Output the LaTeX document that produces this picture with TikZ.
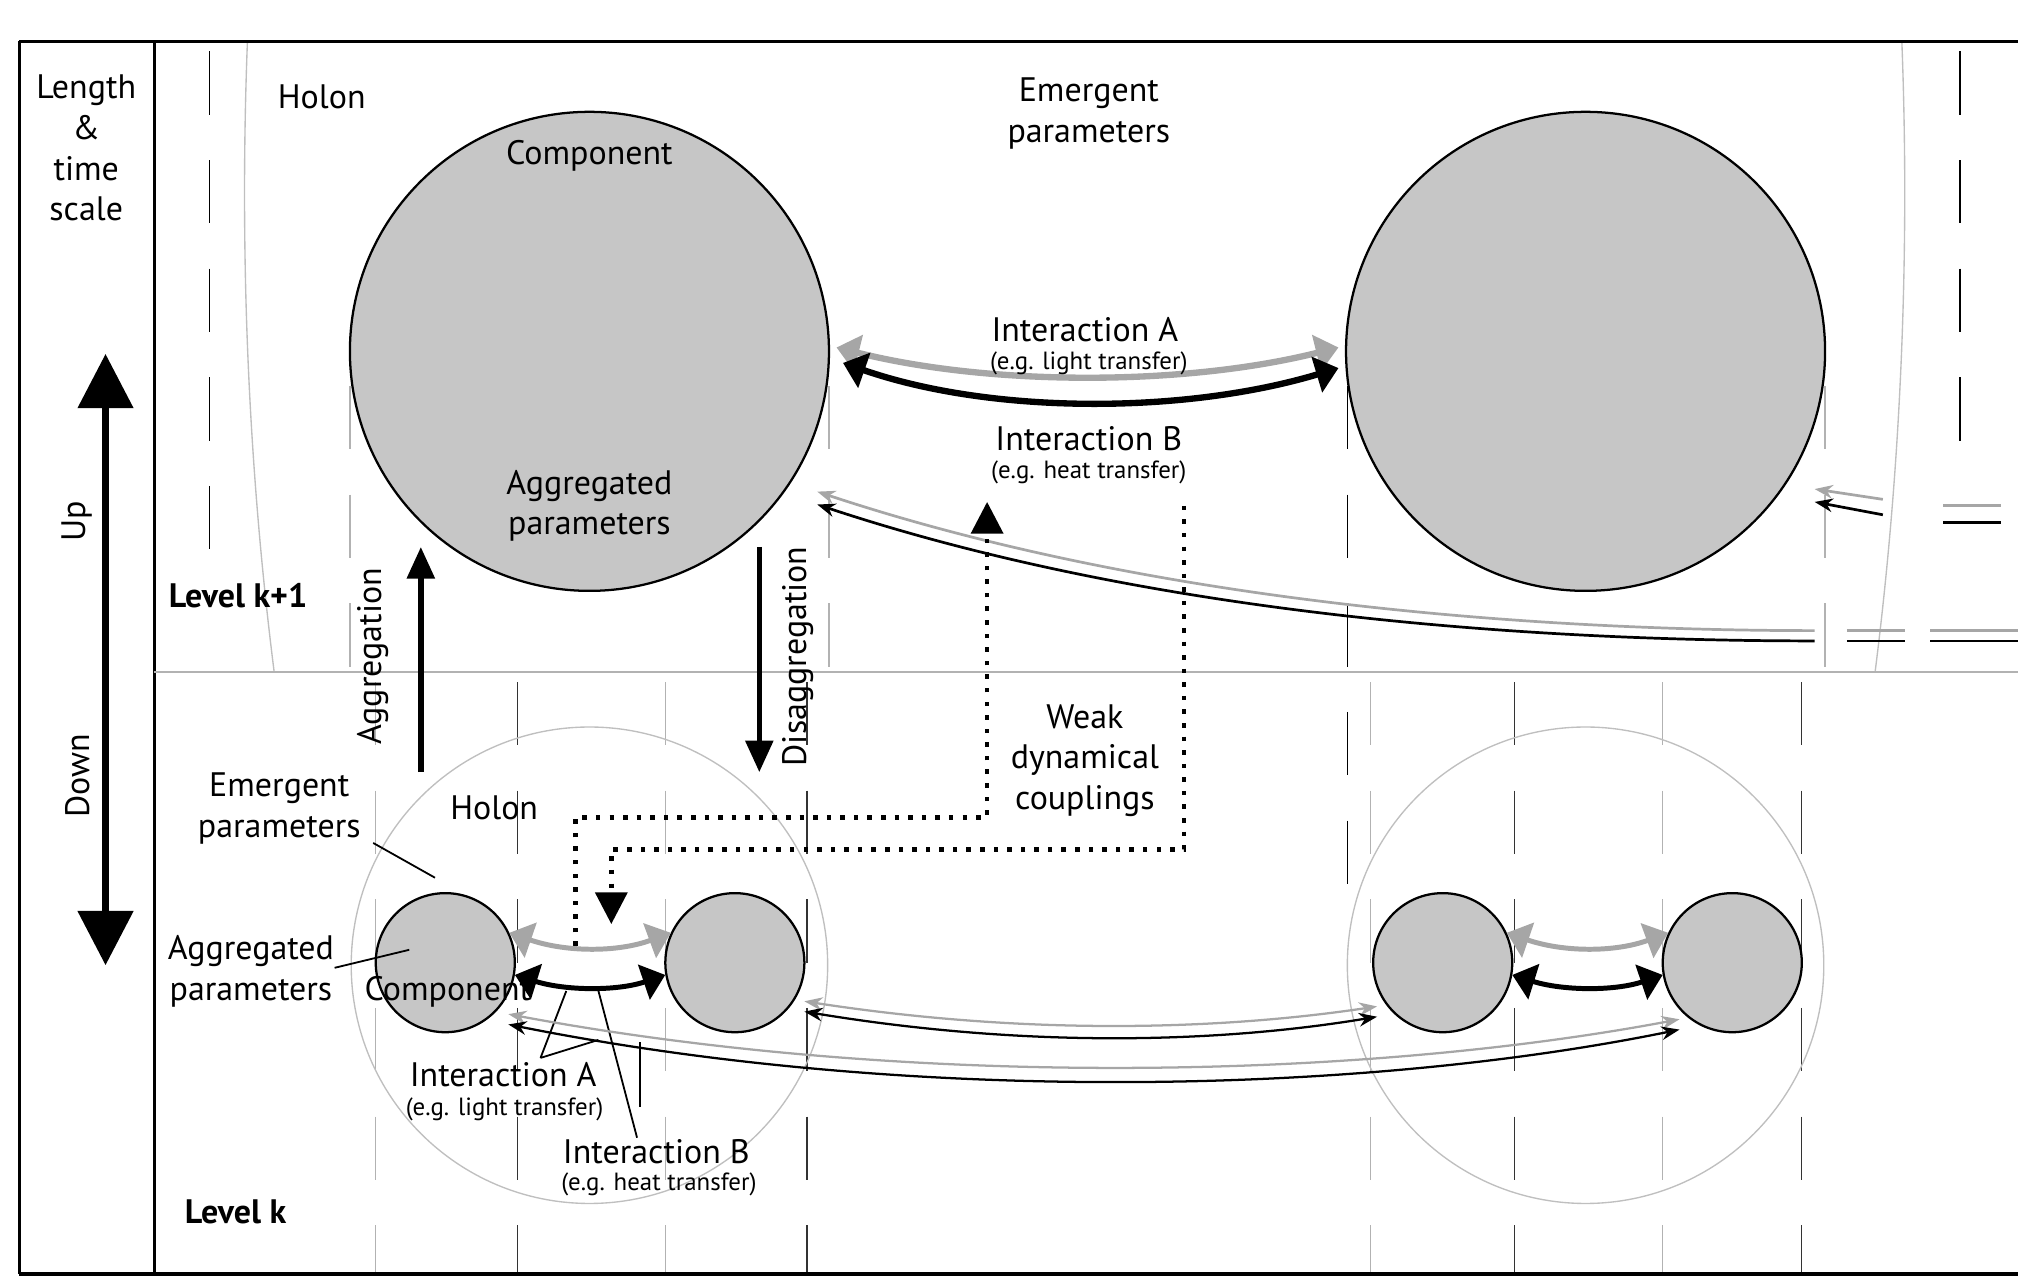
\documentclass[tikz,border=0pt]{standalone}
\usepackage{fontspec}
\setmainfont{PT Sans}
\usetikzlibrary{arrows.meta}
\begin{document}
\begin{tikzpicture}[x=0.01cm,y=-0.01cm,
  lbl/.style={font=\fontsize{7.5}{9}\selectfont,align=center,inner sep=0pt},
  sml/.style={font=\fontsize{5.5}{6.5}\selectfont,inner sep=0pt},
  comp/.style={draw=black,fill=gray!45,line width=0.5pt},
  holon/.style={draw=gray!50,line width=0.3pt},
  dl/.style={dash pattern=on 14pt off 10pt,line width=0.3pt},
  gA/.style={draw=gray!70,line width=1.4pt,{Triangle[length=5pt,width=8pt]}-{Triangle[length=5pt,width=8pt]}},
  bB/.style={draw=black,line width=1.4pt,{Triangle[length=5pt,width=8pt]}-{Triangle[length=5pt,width=8pt]}},
  gs/.style={draw=gray!70,line width=0.5pt,{Stealth[length=4pt]}-{Stealth[length=4pt]}},
  bs/.style={draw=black,line width=0.5pt,{Stealth[length=4pt]}-{Stealth[length=4pt]}},
  dot/.style={dotted,line width=1pt},
  bigar/.style={line width=1.2pt,-{Triangle[length=7pt,width=6pt]}}]
\useasboundingbox (0,0) rectangle (1568,1000);
% holon of level k+1
\begin{scope}
\clip (120,32) rectangle (1568,522);
\draw[holon] (835,150) ellipse (645 and 1400);
\end{scope}
% dashed guide lines
\draw[dl,black] (163,40) -- (163,470);
\draw[dl,black] (1523,40) -- (1523,370);
\foreach \x in {272,644,1418} \draw[dl,gray!60] (\x,300) -- (\x,522);
\draw[dl,black] (1047,300) -- (1047,700);
\foreach \x in {292,517,1065,1292} \draw[dl,gray!60] (\x,530) -- (\x,990);
\foreach \x in {402,627,1177,1400} \draw[dl,black!80] (\x,530) -- (\x,990);
% frame
\draw[line width=0.6pt] (15,32) -- (1568,32);
\draw[line width=0.8pt] (15,990) -- (1568,990);
\draw[line width=0.6pt] (15,32) -- (15,990);
\draw[line width=0.8pt] (120,32) -- (120,990);
\draw[gray!60,line width=0.4pt] (120,522) -- (1568,522);
% big components
\node[comp,circle,minimum size=3.72cm] (C1) at (458,273) {};
\node[comp,circle,minimum size=3.72cm] (C2) at (1232,273) {};
% lower holons
\node[holon,circle,minimum size=3.7cm] (H1) at (458,750) {};
\node[holon,circle,minimum size=3.7cm] (H2) at (1232,750) {};
\node[comp,circle,minimum size=1.08cm] (c1) at (346,748) {};
\node[comp,circle,minimum size=1.08cm] (c2) at (571,748) {};
\node[comp,circle,minimum size=1.08cm] (c3) at (1121,748) {};
\node[comp,circle,minimum size=1.08cm] (c4) at (1346,748) {};
% left column
\node[lbl] (lts) at (67,115) {Length\\\&\\time\\scale};
\coordinate (upT) at (82,275);
\coordinate (dnB) at (82,750);
\draw[line width=1.6pt,{Triangle[length=12pt,width=12pt]}-{Triangle[length=12pt,width=12pt]}] (upT) -- (dnB);
\node[lbl,rotate=90] (up) at (60,405) {Up};
\node[lbl,rotate=90] (down) at (60,603) {Down};
% upper texts
\node[lbl] (holonT) at (250,75) {Holon};
\node[lbl] (emT) at (846,88) {Emergent\\parameters};
\node[lbl] (compT) at (458,121) {Component};
\node[lbl] (aggT) at (458,393) {Aggregated\\parameters};
\node[lbl,font=\bfseries\fontsize{7.5}{9}\selectfont] (lk1) at (185,463) {Level k+1};
\node[lbl,rotate=90] (aggr) at (290,510) {Aggregation};
\node[lbl,rotate=90] (disag) at (620,510) {Disaggregation};
\coordinate (a1) at (327,600); \coordinate (a2) at (327,425);
\draw[bigar] (a1) -- (a2);
\coordinate (d1) at (590,425); \coordinate (d2) at (590,600);
\draw[bigar] (d1) -- (d2);
% interactions upper
\coordinate (iA1) at (650,270); \coordinate (iA2) at (1040,270);
\coordinate (iB1) at (655,282); \coordinate (iB2) at (1040,286);
\draw[gA] (iA1) .. controls (770,300) and (920,300) .. (iA2);
\draw[bB] (iB1) .. controls (770,322) and (920,322) .. (iB2);
\node[lbl] (IA) at (843,256) {Interaction A};
\node[sml] (IAs) at (846,282) {(e.g. light transfer)};
\node[lbl] (IB) at (846,341) {Interaction B};
\node[sml] (IBs) at (846,367) {(e.g. heat transfer)};
% long couplings upper
\coordinate (L1) at (635,382); \coordinate (L1e) at (1410,490);
\coordinate (L2) at (635,392); \coordinate (L2e) at (1410,498);
\draw[gray!70,line width=0.6pt,{Stealth[length=4pt]}-] (L1) .. controls (900,470) and (1200,490) .. (L1e);
\draw[black,line width=0.6pt,{Stealth[length=4pt]}-] (L2) .. controls (900,480) and (1200,498) .. (L2e);
\draw[gray!70,line width=0.6pt] (1435,490) -- (1480,490) (1500,490) -- (1568,490);
\draw[black,line width=0.6pt] (1435,498) -- (1480,498) (1500,498) -- (1568,498);
\coordinate (R1) at (1410,380); \coordinate (R1e) at (1463,388);
\coordinate (R2) at (1410,390); \coordinate (R2e) at (1463,400);
\draw[gray!70,line width=0.6pt,{Stealth[length=4pt]}-] (R1) -- (R1e);
\draw[black,line width=0.6pt,{Stealth[length=4pt]}-] (R2) -- (R2e);
\draw[gray!70,line width=0.6pt] (1510,393) -- (1555,393);
\draw[black,line width=0.6pt] (1510,406) -- (1555,406);
% weak couplings
\coordinate (w1) at (767,390); \coordinate (w1b) at (447,735);
\draw[dot,-{Triangle[length=7pt,width=7pt]}] (w1b) -- (447,635) -- (767,635) -- (w1);
\coordinate (w2) at (920,393); \coordinate (w2b) at (475,718);
\draw[dot,-{Triangle[length=7pt,width=7pt]}] (w2) -- (920,660) -- (475,660) -- (w2b);
\node[lbl] (weak) at (843,591) {Weak\\dynamical\\couplings};
% lower texts
\node[lbl] (emL) at (217,628) {Emergent\\parameters};
\draw[line width=0.4pt] (290,655) -- (338,682);
\node[lbl] (holL) at (384,628) {Holon};
\node[lbl] (agL) at (195,755) {Aggregated\\parameters};
\draw[line width=0.4pt] (260,752) -- (318,738);
\node[lbl] (compL) at (348,771) {Component};
\node[lbl,font=\bfseries\fontsize{7.5}{9}\selectfont] (lk) at (183,942) {Level k};
% small interactions
\draw[gA,line width=1.1pt] (c1.25) .. controls (440,740) and (480,740) .. (c2.155);
\draw[bB,line width=1.1pt] (c1.-10) .. controls (440,770) and (480,770) .. (c2.190);
\draw[gA,line width=1.1pt] (c3.25) .. controls (1215,740) and (1255,740) .. (c4.155);
\draw[bB,line width=1.1pt] (c3.-10) .. controls (1215,770) and (1255,770) .. (c4.190);
\node[lbl] (IAL) at (391,835) {Interaction A};
\node[sml] (IALs) at (392,862) {(e.g. light transfer)};
\node[lbl] (IBL) at (510,895) {Interaction B};
\node[sml] (IBLs) at (512,920) {(e.g. heat transfer)};
\draw[line width=0.4pt] (420,822) -- (440,770) (420,822) -- (465,808) (495,884) -- (465,770);
\draw[line width=0.4pt] (497,810) -- (497,860);
% lower long couplings
\coordinate (m1) at (625,778); \coordinate (m1e) at (1070,782);
\coordinate (m2) at (625,786); \coordinate (m2e) at (1070,790);
\draw[gs] (m1) .. controls (800,805) and (950,800) .. (m1e);
\draw[bs] (m2) .. controls (800,815) and (950,810) .. (m2e);
\coordinate (n1) at (395,788); \coordinate (n1e) at (1305,792);
\coordinate (n2) at (395,796); \coordinate (n2e) at (1305,800);
\draw[gs] (n1) .. controls (700,845) and (1050,840) .. (n1e);
\draw[bs] (n2) .. controls (700,857) and (1050,852) .. (n2e);
\end{tikzpicture}
\end{document}
